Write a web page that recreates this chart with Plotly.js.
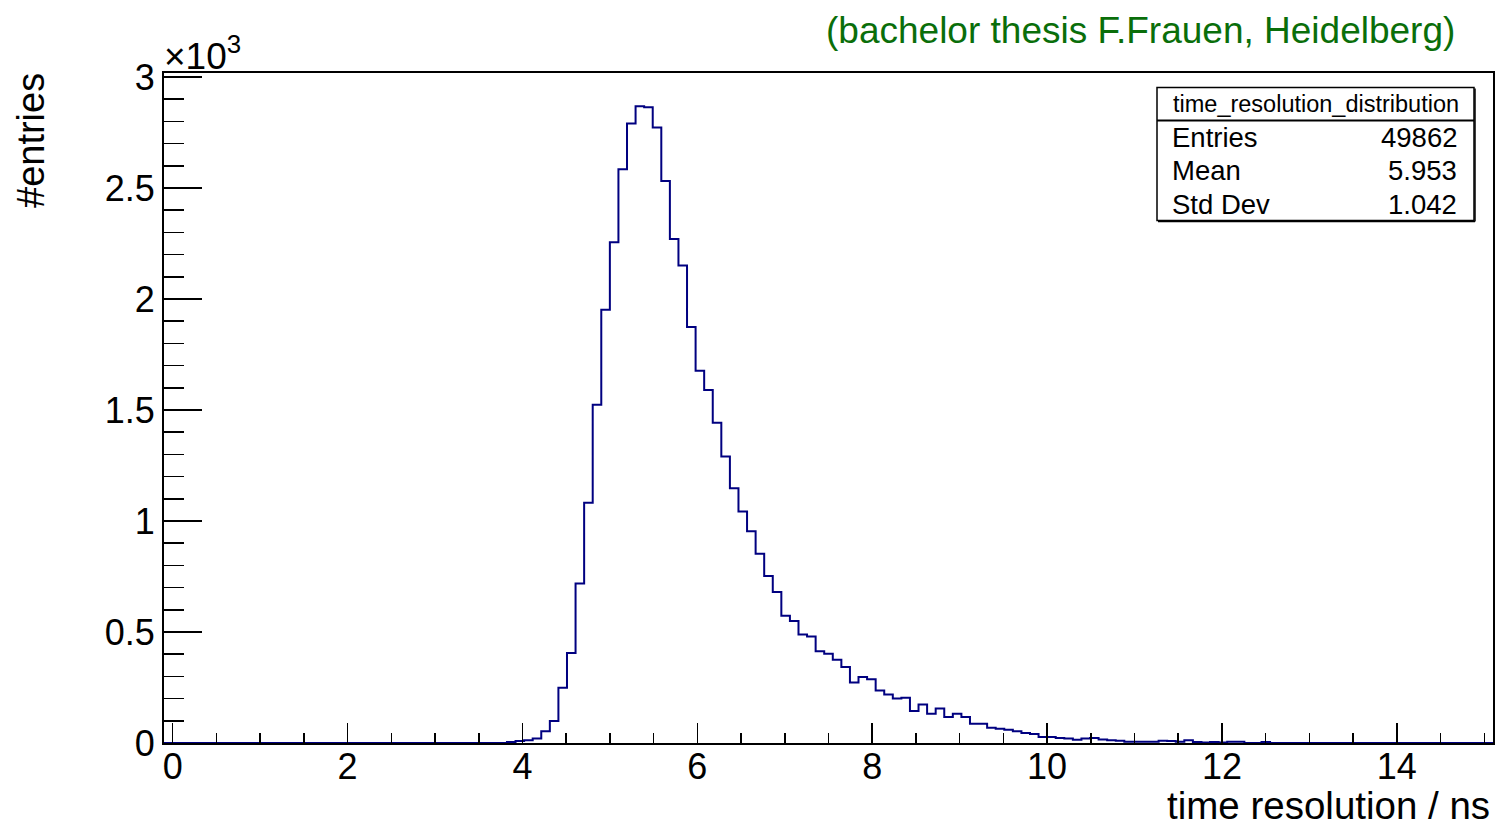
<!DOCTYPE html>
<html>
<head>
<meta charset="utf-8">
<script src="https://cdn.plot.ly/plotly-3.0.1.min.js"></script>
<style>
html,body{margin:0;padding:0;background:#ffffff;}
#chart{width:1498px;height:825px;}
</style>
</head>
<body>
<div id="chart"></div>
<script>
// ---- data ----
const xMin = -0.1;
const xMax = 15.1;
const nBins = 155;
const counts = [
  0,0,0,0,0,0,0,0,0,0, 0,0,0,0,0,0,0,0,0,0,
  0,0,0,0,0,0,0,0,0,0, 0,0,0,0,0,0,0,0,0,0,
  4,9,12,20,53,99,249,405,719,1082,
  1524,1952,2256,2585,2790,2868,2864,2772,2531,2270,
  2151,1874,1677,1590,1442,1290,1148,1043,954,852,
  752,680,573,549,489,480,413,402,375,342,
  272,297,287,237,218,200,204,144,173,132,
  155,117,132,117,87,87,69,64,60,53,
  45,40,27,27,22,20,15,20,22,16,
  12,10,6,6,6,6,10,9,6,12,
  4,2,4,2,6,6,0,0,4,0,
  0,0,0,0,0,0,0,0,0,0, 0,0,0,0,0,0,0,0,0,0,
  0,0,0,0,0
];
const xTickVals = [0,2,4,6,8,10,12,14];
const xTickText = ["0","2","4","6","8","10","12","14"];
const yTickVals = [0,500,1000,1500,2000,2500,3000];
const yTickText = ["0","0.5","1","1.5","2","2.5","3"];
const yMax = 3018;
const histName = "time_resolution_distribution";
const statLabels = ["Entries","Mean","Std Dev"];
const statValues = ["49862","5.953","1.042"];
const titleText = "(bachelor thesis F.Frauen, Heidelberg)";
const xTitle = "time resolution / ns";
const yTitle = "#entries";
const expText = "×10<sup>3</sup>";

// ---- build step line from bins ----
const binW = (xMax - xMin) / nBins;
const xs = [], ys = [];
for (let i = 0; i < nBins; i++) { xs.push(xMin + i * binW); ys.push(counts[i]); }
xs.push(xMax); ys.push(counts[nBins - 1]);

// ---- geometry ----
const W = 1498, H = 825;
const L = 164, R = 5, T = 73, B = 82;
const PW = W - L - R, PH = H - T - B;
const px = v => (v - L) / PW;
const py = v => (T + PH - v) / PH;

const FONT = "Liberation Sans, Arial, Helvetica, sans-serif";

const trace = {
  x: xs, y: ys, type: 'scatter', mode: 'lines',
  line: {shape: 'hv', color: '#000080', width: 2},
  hoverinfo: 'skip', showlegend: false
};

const box = {x0: 1157, x1: 1474, y0: 87.5, y1: 220.5, sep: 120.5};

const annotations = [
  {text: titleText, xref: 'paper', yref: 'paper', x: px(1457), y: py(30), xanchor: 'right', yanchor: 'middle',
   showarrow: false, font: {family: FONT, size: 37, color: '#0a6e0a'}},
  {text: expText, xref: 'paper', yref: 'paper', x: px(162), y: py(54), xanchor: 'left', yanchor: 'middle',
   showarrow: false, font: {family: FONT, size: 37, color: '#000'}},
  {text: xTitle, xref: 'paper', yref: 'paper', x: px(1492), y: py(829), xanchor: 'right', yanchor: 'bottom',
   showarrow: false, font: {family: FONT, size: 38.5, color: '#000'}},
  {text: yTitle, xref: 'paper', yref: 'paper', x: px(31), y: py(141), xanchor: 'center', yanchor: 'middle',
   textangle: -90, showarrow: false, font: {family: FONT, size: 38, color: '#000'}},
  {text: histName, xref: 'paper', yref: 'paper', x: px((box.x0 + box.x1) / 2), y: py(103.5), xanchor: 'center', yanchor: 'middle',
   showarrow: false, font: {family: FONT, size: 23.5, color: '#000'}}
];
const rowY = [137, 171, 204.5];
for (let i = 0; i < statLabels.length; i++) {
  annotations.push({text: statLabels[i], xref: 'paper', yref: 'paper', x: px(1170), y: py(rowY[i]), xanchor: 'left', yanchor: 'middle',
    showarrow: false, font: {family: FONT, size: 27.5, color: '#000'}});
  annotations.push({text: statValues[i], xref: 'paper', yref: 'paper', x: px(1459), y: py(rowY[i]), xanchor: 'right', yanchor: 'middle',
    showarrow: false, font: {family: FONT, size: 27.5, color: '#000'}});
}

const shapes = [
  {type: 'rect', xref: 'paper', yref: 'paper', x0: px(box.x0), x1: px(box.x1), y0: py(box.y1), y1: py(box.y0),
   line: {color: '#000', width: 1.5}, fillcolor: '#ffffff', layer: 'above'},
  {type: 'line', xref: 'paper', yref: 'paper', x0: px(box.x0), x1: px(box.x1), y0: py(box.sep), y1: py(box.sep),
   line: {color: '#000', width: 2}, layer: 'above'},
  {type: 'line', xref: 'paper', yref: 'paper', x0: px(box.x0 + 1), x1: px(box.x1 + 1), y0: py(box.y1 + 1), y1: py(box.y1 + 1),
   line: {color: '#000', width: 1.5}, layer: 'above'},
  {type: 'line', xref: 'paper', yref: 'paper', x0: px(box.x1 + 1), x1: px(box.x1 + 1), y0: py(box.y1 + 1), y1: py(box.y0 + 1),
   line: {color: '#000', width: 1.5}, layer: 'above'}
];

const layout = {
  width: W, height: H,
  margin: {l: L, r: R, t: T, b: B, pad: 0},
  paper_bgcolor: '#ffffff', plot_bgcolor: '#ffffff',
  showlegend: false,
  font: {family: FONT, color: '#000'},
  xaxis: {
    range: [xMin, xMax], tickmode: 'array', tickvals: xTickVals, ticktext: xTickText,
    ticks: 'inside', ticklen: 20, tickwidth: 1.5, tickcolor: '#000',
    ticklabelstandoff: -9,
    minor: {dtick: 0.5, tick0: 0, ticks: 'inside', ticklen: 10, tickwidth: 1.5, tickcolor: '#000', showgrid: false},
    showline: true, linecolor: '#000', linewidth: 2, mirror: true,
    showgrid: false, zeroline: false,
    tickfont: {family: FONT, size: 36, color: '#000'}
  },
  yaxis: {
    range: [0, yMax], tickmode: 'array', tickvals: yTickVals, ticktext: yTickText,
    ticks: 'inside', ticklen: 38, tickwidth: 1.5, tickcolor: '#000',
    minor: {dtick: 100, tick0: 0, ticks: 'inside', ticklen: 20, tickwidth: 1.5, tickcolor: '#000', showgrid: false},
    showline: true, linecolor: '#000', linewidth: 2, mirror: true,
    showgrid: false, zeroline: false,
    tickfont: {family: FONT, size: 36, color: '#000'}
  },
  annotations: annotations,
  shapes: shapes
};

Plotly.newPlot('chart', [trace], layout, {staticPlot: true, displayModeBar: false});
</script>
</body>
</html>
